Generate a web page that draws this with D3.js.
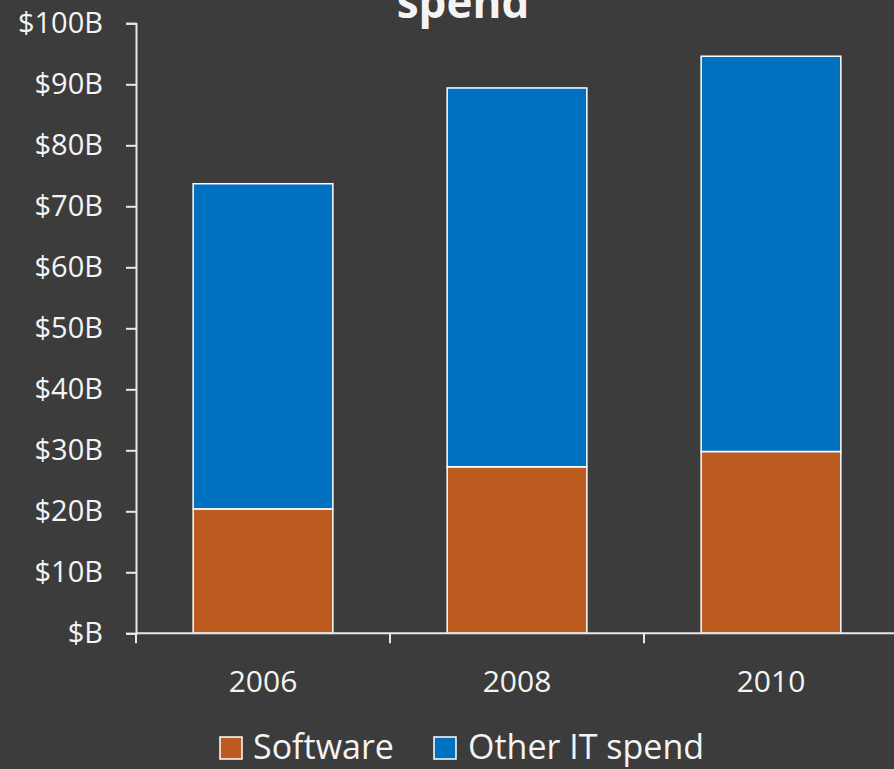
<!DOCTYPE html>
<html><head><meta charset="utf-8">
<script src="https://cdn.jsdelivr.net/npm/d3@7"></script>
<style>
html,body{margin:0;padding:0;background:#3c3c3c;}
svg{display:block;}
text{font-family:"Open Sans","Noto Sans",sans-serif;fill:#f4f4f4;}
</style></head>
<body>
<script>
const categories = ["2006", "2008", "2010"];
const software = [20.4, 27.3, 29.8];
const otherIT = [53.3, 62.1, 64.8];
const seriesNames = ["Software", "Other IT spend"];
const seriesColors = ["#bc5b20", "#0070c0"];
const yTicks = [0, 10, 20, 30, 40, 50, 60, 70, 80, 90, 100];
const yTickLabels = ["$B", "$10B", "$20B", "$30B", "$40B", "$50B", "$60B", "$70B", "$80B", "$90B", "$100B"];
const titleText = "spend";

const W = 894, H = 769;
const svg = d3.select("body").append("svg").attr("width", W).attr("height", H);
svg.append("rect").attr("width", W).attr("height", H).attr("fill", "#3c3c3c");

const x0 = 136, x1 = 898, y0 = 633.3, y1 = 23.3;
const x = d3.scaleBand().domain(categories).range([x0, x1]).paddingInner(0.45).paddingOuter(0.225);
const y = d3.scaleLinear().domain([0, 100]).range([y0, y1]);

const table = categories.map((c, i) => ({cat: c, Software: software[i], "Other IT spend": otherIT[i]}));
const stack = d3.stack().keys(seriesNames)(table);

const g = svg.append("g");
stack.forEach((layer, li) => {
  g.selectAll(null).data(layer).enter().append("rect")
    .attr("x", d => x(d.data.cat))
    .attr("width", x.bandwidth())
    .attr("y", d => y(d[1]))
    .attr("height", d => y(d[0]) - y(d[1]))
    .attr("fill", seriesColors[li])
    .attr("stroke", "#ffffff")
    .attr("stroke-width", 1.5);
});

// Y axis
const yAxis = d3.axisLeft(y).tickValues(yTicks).tickFormat((d, i) => yTickLabels[i]).tickSize(10).tickPadding(23);
const ya = svg.append("g").attr("transform", `translate(${x0},0)`).call(yAxis);
ya.select(".domain").attr("stroke", "#e8e8e8").attr("stroke-width", 2);
ya.selectAll(".tick line").attr("stroke", "#e8e8e8").attr("stroke-width", 2);
ya.selectAll(".tick text").attr("font-size", 29).attr("fill", "#f4f4f4").attr("font-family", null);

// X axis
const xStep = x.step();
const xa = svg.append("g").attr("transform", `translate(0,${y0})`);
xa.append("line").attr("x1", x0).attr("x2", x1).attr("y1", 0).attr("y2", 0).attr("stroke", "#e8e8e8").attr("stroke-width", 2);
const boundaries = d3.range(categories.length + 1).map(i => x0 + i * xStep);
xa.selectAll(null).data(boundaries).enter().append("line")
  .attr("x1", d => d).attr("x2", d => d).attr("y1", 0).attr("y2", 10)
  .attr("stroke", "#e8e8e8").attr("stroke-width", 2);
xa.selectAll(null).data(categories).enter().append("text")
  .attr("x", d => x(d) + x.bandwidth() / 2).attr("y", 59)
  .attr("text-anchor", "middle").attr("font-size", 30).text(d => d);

// Title (partially cut off at the top, as in the reference)
svg.append("text").attr("x", 463).attr("y", 18).attr("text-anchor", "middle")
  .attr("font-size", 44).attr("font-weight", "bold").text(titleText);

// Legend
const legendPos = [{sx: 220, tx: 253}, {sx: 434, tx: 468}];
seriesNames.forEach((name, i) => {
  svg.append("rect").attr("x", legendPos[i].sx).attr("y", 737).attr("width", 22).attr("height", 22)
    .attr("fill", seriesColors[i]).attr("stroke", "#ffffff").attr("stroke-width", 1.5);
  svg.append("text").attr("x", legendPos[i].tx).attr("y", 759).attr("font-size", 34).text(name);
});
</script>
</body></html>
